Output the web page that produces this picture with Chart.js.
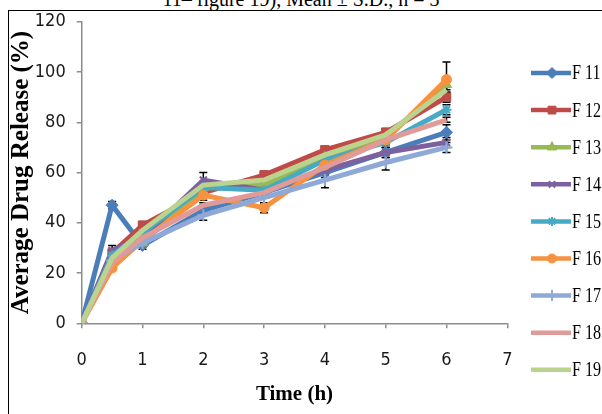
<!DOCTYPE html>
<html>
<head>
<meta charset="utf-8">
<script src="https://cdn.jsdelivr.net/npm/chart.js@4.4.1/dist/chart.umd.min.js"></script>
<style>
  html, body { margin: 0; padding: 0; background: #fff; }
  #wrap { position: relative; width: 602px; height: 414px; overflow: hidden; }
  #cap { position: absolute; left: 0; top: -11px; width: 602px; text-align: center;
         font: 20px "Liberation Serif", serif; line-height: 20px; color: #000; }
  #frame { position: absolute; left: 8px; top: 10px; right: -4px; bottom: -4px;
           border-top: 1.5px solid #000; border-left: 1.5px solid #000; }
  canvas { position: absolute; left: 0; top: 0; }
</style>
</head>
<body>
<div id="wrap">
  <div id="cap">11– figure 19), Mean ± S.D., n = 3</div>
  <div id="frame"></div>
  <canvas id="c" width="602" height="414"></canvas>
</div>
<script>
// sampling times (h)
const times = [0, 0.5, 1, 2, 3, 4, 5, 6];
const names = ['F 11', 'F 12', 'F 13', 'F 14', 'F 15', 'F 16', 'F 17', 'F 18', 'F 19'];

// mean release (%)
const f11 = [0, 47, 31, 45, 52, 60, 68, 76];
const f12 = [0, 28, 39, 52, 59, 69, 76, 90];
const f13 = [0, 27, 32, 54, 55, 66, 74, 95];
const f14 = [0, 29, 34, 57, 53, 61, 68, 72];
const f15 = [0, 27, 36, 54, 53, 65, 72, 85];
const f16 = [0, 22, 33, 51, 46, 63, 73, 97];
const f17 = [0, 25, 32, 43, 50, 57, 64, 70];
const f18 = [0, 24, 34, 47, 52, 62, 73, 81];
const f19 = [0, 26, 37, 55, 57, 67, 75, 93];

// standard deviations (n = 3)
const sd11 = [0, 1.5, 1.5, 2, 2, 2, 2, 3];
const sd12 = [0, 1, 1.5, 2, 1.5, 1.5, 1.5, 2];
const sd13 = [0, 1, 1.5, 2, 2, 2, 2, 2];
const sd14 = [0, 2, 1, 3, 3, 2, 2, 2];
const sd15 = [0, 1, 1, 2, 2, 2, 2, 2];
const sd16 = [0, 1, 1, 2, 2, 2, 2, 7];
const sd17 = [0, 1, 1, 2, 2, 3, 3, 2];
const sd18 = [0, 1, 1, 1, 1, 1, 1, 1];
const sd19 = [0, 1, 1, 1, 1, 1, 1, 1];

const yTicks = [0, 20, 40, 60, 80, 100, 120];

const means = [f11, f12, f13, f14, f15, f16, f17, f18, f19];
const sds = [sd11, sd12, sd13, sd14, sd15, sd16, sd17, sd18, sd19];

const colors = ['#4a7ebb', '#be4b48', '#98b954', '#7d60a0', '#46aac5', '#f69240', '#8ea9d8', '#e09a98', '#bcd28f'];
const markers = ['rectRot', 'rect', 'triangle', 'crossRot', 'star', 'circle', 'cross', false, false];
const radii = [6, 6, 6, 5, 5, 5, 6, 0, 0];

const tickFont = { family: '"Liberation Sans Narrow", "DejaVu Sans Condensed", sans-serif', size: 18 };
const titleFont = { family: '"Liberation Serif", "Times New Roman", serif', size: 25, weight: 'bold' };
const axisGrey = '#8c8c8c';

const datasets = names.map((n, i) => ({
  label: n,
  data: times.map((t, j) => ({ x: t, y: means[i][j] })),
  borderColor: colors[i],
  backgroundColor: colors[i],
  borderWidth: 5,
  pointStyle: markers[i] || 'circle',
  pointRadius: radii[i],
  pointBorderWidth: (markers[i] === 'crossRot' || markers[i] === 'star' || markers[i] === 'cross') ? 2 : 1,
  tension: 0,
  order: names.length - i
}));

// error bars, drawn underneath the lines
const errorBars = {
  id: 'errorBars',
  beforeDatasetsDraw(chart) {
    const ctx = chart.ctx, ys = chart.scales.y;
    ctx.save();
    ctx.strokeStyle = '#000';
    ctx.lineWidth = 1.5;
    chart.data.datasets.forEach((ds, i) => {
      const meta = chart.getDatasetMeta(i);
      meta.data.forEach((pt, j) => {
        const sd = sds[i][j];
        if (!sd) return;
        const v = means[i][j];
        const top = ys.getPixelForValue(v + sd), bot = ys.getPixelForValue(v - sd);
        ctx.beginPath();
        ctx.moveTo(pt.x, top); ctx.lineTo(pt.x, bot);
        ctx.moveTo(pt.x - 4, top); ctx.lineTo(pt.x + 4, top);
        ctx.moveTo(pt.x - 4, bot); ctx.lineTo(pt.x + 4, bot);
        ctx.stroke();
      });
    });
    ctx.restore();
  }
};

// line + marker legend on the right
const sideLegend = {
  id: 'sideLegend',
  afterDraw(chart) {
    const ctx = chart.ctx;
    ctx.save();
    chart.data.datasets.forEach((ds, i) => {
      const y = 73 + 37.1 * i;
      ctx.strokeStyle = ds.borderColor;
      ctx.lineWidth = 4.5;
      ctx.beginPath();
      ctx.moveTo(531, y); ctx.lineTo(571, y);
      ctx.stroke();
      if (markers[i]) {
        ctx.fillStyle = ds.backgroundColor;
        ctx.strokeStyle = ds.borderColor;
        ctx.lineWidth = ds.pointBorderWidth;
        Chart.helpers.drawPoint(ctx, { pointStyle: markers[i], radius: radii[i] - 0.5, rotation: 0, borderWidth: ds.pointBorderWidth }, 552, y);
      }
      ctx.save();
      ctx.translate(572, y + 1);
      ctx.scale(0.85, 1.1);
      ctx.fillStyle = '#000';
      ctx.font = '19px "Liberation Serif", serif';
      ctx.textBaseline = 'middle';
      ctx.fillText(ds.label, 0, 0);
      ctx.restore();
    });
    ctx.restore();
  }
};

new Chart(document.getElementById('c'), {
  type: 'line',
  data: { datasets },
  options: {
    responsive: false,
    animation: false,
    devicePixelRatio: 1,
    layout: { padding: { left: 0, top: 21.7, right: 94.7, bottom: 0 } },
    plugins: { legend: { display: false }, tooltip: { enabled: false } },
    scales: {
      x: {
        type: 'linear', min: 0, max: 7,
        afterFit: s => { s.height = 90.7; },
        ticks: { stepSize: 1, padding: 21, maxRotation: 0, color: '#1a1a1a', font: tickFont },
        grid: { drawOnChartArea: false, drawTicks: true, tickLength: 5, color: axisGrey, lineWidth: 1.5 },
        border: { color: axisGrey, width: 1.5 },
        title: { display: true, text: 'Time (h)', color: '#000', font: { ...titleFont, size: 21 }, padding: { top: 0, bottom: 7 } }
      },
      y: {
        min: 0, max: 120,
        afterFit: s => { s.width = 81.7; },
        afterBuildTicks: s => { s.ticks = yTicks.map(v => ({ value: v })); },
        ticks: { padding: 11, color: '#1a1a1a', font: tickFont },
        grid: { drawOnChartArea: false, drawTicks: true, tickLength: 5, color: axisGrey, lineWidth: 1.5 },
        border: { color: axisGrey, width: 1.5 },
        title: { display: true, text: 'Average Drug Release (%)', color: '#000', font: titleFont, padding: { top: 7, bottom: 0 } }
      }
    }
  },
  plugins: [errorBars, sideLegend]
});
</script>
</body>
</html>
